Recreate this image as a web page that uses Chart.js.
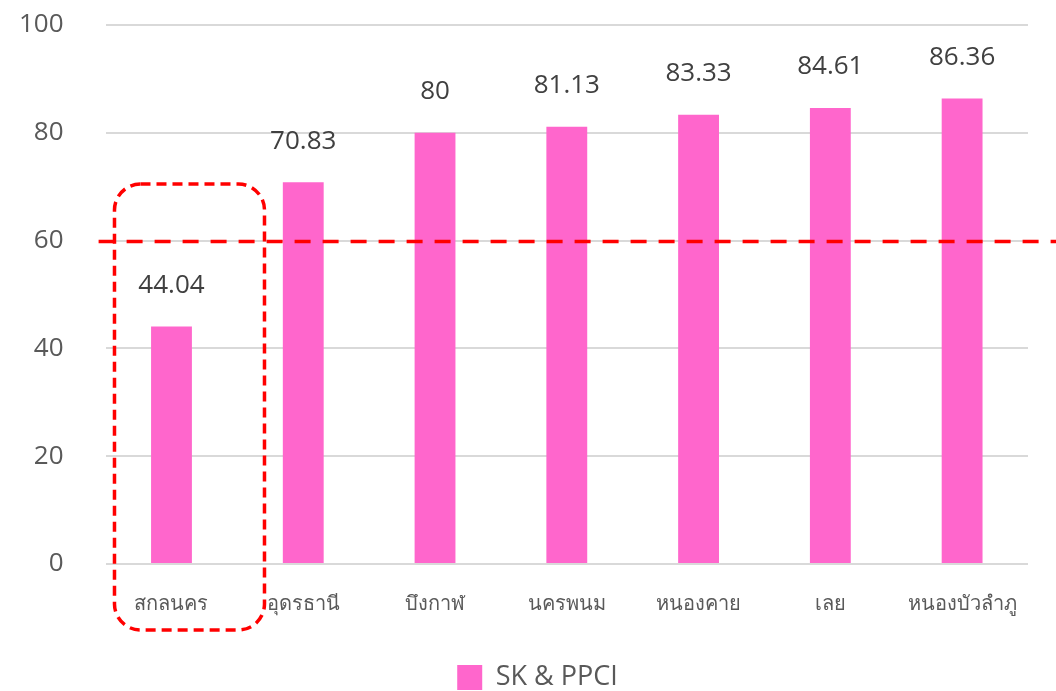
<!doctype html>
<html lang="th">
<head>
<meta charset="utf-8">
<title>SK & PPCI</title>
<script src="https://cdn.jsdelivr.net/npm/chart.js@4.4.1/dist/chart.umd.min.js"></script>
<style>
  * { margin: 0; padding: 0; box-sizing: border-box; }
  html, body { width: 1056px; height: 691px; background: #fff; overflow: hidden; }
  .wrapper { width: 1056px; height: 691px; position: relative; }
</style>
</head>
<body>
<div class="wrapper">
  <canvas id="canvas"></canvas>
</div>
<script>
  var categories = ['สกลนคร', 'อุดรธานี', 'บึงกาฬ', 'นครพนม', 'หนองคาย', 'เลย', 'หนองบัวลำภู']
  var values = [44.04, 70.83, 80, 81.13, 83.33, 84.61, 86.36]
  var valueLabels = ['44.04', '70.83', '80', '81.13', '83.33', '84.61', '86.36']
  var yTicks = [0, 20, 40, 60, 80, 100]
  var seriesName = 'SK & PPCI'
  var targetLine = 60

  var fontFamily = "'Open Sans', 'Noto Sans', sans-serif"

  // labels above the bars
  var valueLabelPlugin = {
    id: 'valueLabels',
    afterDatasetsDraw: function (chart) {
      var ctx = chart.ctx
      var meta = chart.getDatasetMeta(0)
      ctx.save()
      ctx.fillStyle = '#404040'
      ctx.font = '26px ' + fontFamily
      ctx.textAlign = 'center'
      ctx.textBaseline = 'middle'
      meta.data.forEach(function (bar, i) {
        ctx.fillText(valueLabels[i], bar.x, bar.y - 41)
      })
      ctx.restore()
    }
  }

  // red dashed target line and box around the first category
  var highlightPlugin = {
    id: 'highlight',
    afterLayout: function (chart) {
      // legend sits a bit right of the canvas centre
      chart.legend.left += 15
      chart.legend.right += 15
    },
    afterDraw: function (chart) {
      var ctx = chart.ctx
      var x = chart.scales.x
      var y = chart.scales.y
      ctx.save()
      ctx.strokeStyle = '#FF0000'
      ctx.lineWidth = 3.5
      ctx.setLineDash([16, 12])
      var ly = y.getPixelForValue(targetLine) + 1
      ctx.beginPath()
      ctx.moveTo(x.left - 7, ly)
      ctx.lineTo(chart.width, ly)
      ctx.stroke()

      var cx = x.getPixelForValue(0)
      var left = cx - 57, right = cx + 93
      var top = y.getPixelForValue(70.5), bottom = y.bottom + 66
      ctx.setLineDash([10, 6])
      ctx.beginPath()
      ctx.roundRect(left, top, right - left, bottom - top, 26)
      ctx.stroke()
      ctx.restore()
    }
  }

  var canvas = document.getElementById('canvas')
  var ctx = canvas.getContext('2d')

  var myChart = new Chart(ctx, {
    type: 'bar',
    data: {
      labels: categories,
      datasets: [{
        label: seriesName,
        data: values,
        backgroundColor: '#FF66CC',
        borderWidth: 0,
        categoryPercentage: 1,
        barPercentage: 0.31
      }]
    },
    options: {
      responsive: true,
      maintainAspectRatio: false,
      animation: false,
      layout: { padding: { left: 17, right: 28, top: 25, bottom: -10 } },
      plugins: {
        legend: {
          position: 'bottom',
          labels: {
            color: '#595959',
            font: { size: 27, family: fontFamily },
            boxWidth: 25,
            boxHeight: 25,
            padding: 0
          }
        },
        tooltip: { enabled: false }
      },
      scales: {
        x: {
          grid: { display: false, drawTicks: false },
          border: { display: false },
          ticks: {
            color: '#595959',
            font: { size: 20, family: fontFamily },
            padding: 28,
            maxRotation: 0
          },
          afterFit: function (axis) { axis.height += 20 }
        },
        y: {
          min: 0,
          max: 100,
          afterBuildTicks: function (axis) {
            axis.ticks = yTicks.map(function (v) { return { value: v } })
          },
          // invisible tick marks keep the labels away from the plot
          grid: { color: '#D9D9D9', lineWidth: 2, drawTicks: true, tickLength: 40, tickColor: 'rgba(0,0,0,0)' },
          border: { display: false },
          ticks: {
            color: '#595959',
            font: { size: 26, family: fontFamily },
            padding: 2
          }
        }
      }
    },
    plugins: [valueLabelPlugin, highlightPlugin]
  });
</script>
</body>
</html>
